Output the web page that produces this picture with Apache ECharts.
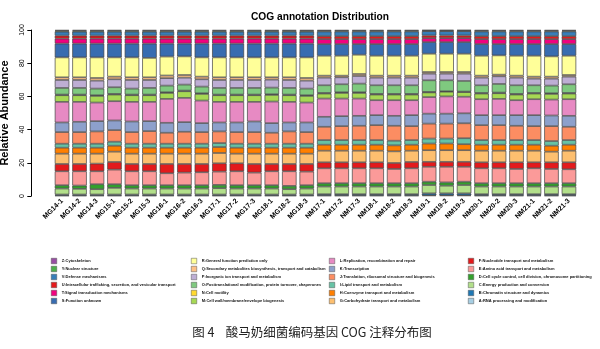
<!DOCTYPE html>
<html><head><meta charset="utf-8">
<script src="https://cdn.jsdelivr.net/npm/echarts@6/dist/echarts.min.js"></script>
<style>html,body{margin:0;padding:0;background:#fff}#c{width:600px;height:349px}</style>
</head><body><div id="c"></div>
<script>
const categories = ["MG14-1","MG14-2","MG14-3","MG15-1","MG15-2","MG15-3","MG16-1","MG16-2","MG16-3","MG17-1","MG17-2","MG17-3","MG18-1","MG18-2","MG18-3","NM17-1","NM17-2","NM17-3","NM18-1","NM18-2","NM18-3","NM19-1","NM19-2","NM19-3","NM20-1","NM20-2","NM20-3","NM21-1","NM21-2","NM21-3"];
const yTicks = [0, 20, 40, 60, 80, 100];
const cogLetters = ["A","B","C","D","E","F","G","H","I","J","K","L","M","N","O","P","Q","R","S","T","U","V","Y","Z"];
const cogNames = {
  A:"A:RNA processing and modification",
  B:"B:Chromatin structure and dynamics",
  C:"C:Energy production and conversion",
  D:"D:Cell cycle control, cell division, chromosome partitioning",
  E:"E:Amino acid transport and metabolism",
  F:"F:Nucleotide transport and metabolism",
  G:"G:Carbohydrate transport and metabolism",
  H:"H:Coenzyme transport and metabolism",
  I:"I:Lipid transport and metabolism",
  J:"J:Translation, ribosomal structure and biogenesis",
  K:"K:Transcription",
  L:"L:Replication, recombination and repair",
  M:"M:Cell wall/membrane/envelope biogenesis",
  N:"N:Cell motility",
  O:"O:Posttranslational modification, protein turnover, chaperones",
  P:"P:Inorganic ion transport and metabolism",
  Q:"Q:Secondary metabolites biosynthesis, transport and catabolism",
  R:"R:General function prediction only",
  S:"S:Function unknown",
  T:"T:Signal transduction mechanisms",
  U:"U:Intracellular trafficking, secretion, and vesicular transport",
  V:"V:Defense mechanisms",
  Y:"Y:Nuclear structure",
  Z:"Z:Cytoskeleton"
};
const cogA = [0.3,0.3,0.3,0.3,0.3,0.3,0.3,0.3,0.3,0.3,0.3,0.3,0.3,0.3,0.3,0.3,0.3,0.3,0.3,0.3,0.3,0.4,0.4,0.4,0.3,0.3,0.3,0.3,0.3,0.3];
const cogB = [0.6,0.6,0.6,0.6,0.6,0.6,0.6,0.6,0.6,0.6,0.6,0.6,0.6,0.6,0.6,0.8,0.8,0.8,0.8,0.8,0.8,1.2,1.2,1.2,0.8,0.8,0.8,0.8,0.8,0.8];
const cogC = [3.6,3.4,3.2,4.0,3.6,3.6,3.6,3.6,3.6,3.8,3.6,3.6,3.6,3.2,3.6,4.6,4.6,4.6,4.6,4.6,4.6,5.0,4.6,5.0,4.6,4.6,4.6,4.6,4.6,4.6];
const cogD = [2.0,2.0,3.0,2.2,2.0,2.0,2.0,2.0,2.0,2.0,2.0,2.0,2.0,2.0,2.0,2.0,2.0,2.0,2.0,2.0,2.0,2.0,2.0,2.0,2.0,2.0,2.0,2.0,2.0,2.0];
const cogE = [8.4,8.6,7.8,8.8,8.4,8.4,7.2,7.6,7.8,8.0,8.4,7.6,8.4,8.8,8.2,9.0,9.0,9.0,9.0,8.6,9.0,9.0,9.4,9.0,9.0,9.0,8.6,9.0,8.6,8.4];
const cogF = [4.4,4.4,4.6,4.6,4.4,4.4,5.6,5.2,5.0,5.0,4.8,5.2,4.4,4.4,4.6,3.6,3.6,3.6,3.6,3.6,3.8,3.0,3.0,3.0,3.6,3.6,4.0,3.6,4.0,4.2];
const cogG = [6.2,6.2,6.0,6.2,6.2,6.2,6.2,6.2,6.2,6.2,5.8,6.2,6.2,6.2,6.2,7.0,7.0,7.0,7.0,7.0,6.8,7.0,7.0,7.0,7.0,7.0,7.0,7.0,6.4,7.0];
const cogH = [3.6,3.6,3.6,3.6,3.6,3.6,3.6,3.6,3.6,3.6,3.6,3.6,3.6,3.6,3.6,3.6,3.6,3.6,3.6,3.6,3.6,4.0,4.0,3.6,3.6,3.6,3.6,3.6,3.6,3.6];
const cogI = [2.4,2.4,2.4,2.4,2.4,2.4,2.4,2.4,2.4,2.4,2.4,2.4,2.4,2.4,2.4,2.8,2.8,2.8,2.8,2.8,2.8,3.0,3.0,3.6,2.8,2.8,2.8,2.8,2.8,2.8];
const cogJ = [7.0,7.0,7.4,7.0,7.0,7.6,6.6,7.2,7.0,7.0,7.0,7.0,6.6,7.4,7.0,8.0,8.4,8.6,9.0,9.0,8.4,9.0,9.0,9.0,9.0,9.0,8.6,8.4,9.0,8.0];
const cogK = [5.8,6.2,6.2,5.8,6.4,6.0,6.0,5.8,5.4,5.4,5.8,6.4,5.8,5.4,5.8,6.0,6.0,6.0,6.0,6.0,6.6,6.0,6.0,6.0,6.0,6.0,6.4,6.6,6.4,6.6];
const cogL = [12.4,12.0,11.2,11.6,11.8,11.6,14.4,14.6,13.6,12.4,12.4,11.8,13.0,12.4,12.0,11.0,10.6,10.4,9.0,9.4,9.0,10.0,10.4,10.0,9.6,9.8,9.0,9.6,9.6,10.0];
const cogM = [4.0,4.0,4.0,4.0,4.0,4.0,3.6,4.0,4.0,4.0,4.0,4.0,4.0,4.0,4.0,3.0,3.4,3.4,3.4,3.4,3.4,2.8,2.8,2.8,3.4,3.4,3.4,3.4,3.4,3.4];
const cogN = [0.4,0.4,0.4,0.4,0.4,0.4,0.4,0.4,0.4,0.4,0.4,0.4,0.4,0.4,0.4,0.4,0.4,0.4,0.4,0.4,0.4,0.3,0.3,0.3,0.4,0.4,0.4,0.4,0.4,0.4];
const cogO = [4.0,4.0,4.0,4.0,3.6,4.0,4.0,3.6,4.0,4.0,4.0,4.0,4.0,4.0,4.0,4.6,4.8,5.2,5.2,5.2,5.2,7.0,6.6,6.4,4.6,5.2,5.2,4.6,4.6,5.2];
const cogP = [4.8,4.8,4.8,4.8,5.2,4.8,4.5,4.2,4.4,4.8,4.8,4.8,4.8,4.8,4.8,4.6,4.2,4.6,4.6,4.6,4.6,4.0,4.0,4.4,4.6,4.6,4.6,4.0,4.2,4.6];
const cogQ = [1.6,1.6,1.6,1.6,1.6,1.6,1.6,1.6,1.6,1.6,1.6,1.6,1.4,1.6,1.6,1.2,1.0,1.2,1.2,1.2,1.2,1.0,1.0,1.0,1.2,1.0,1.2,1.2,1.2,1.0];
const cogR = [12.0,12.0,12.4,11.6,12.0,11.7,11.4,11.2,11.6,12.0,12.0,12.0,12.0,12.0,12.4,12.0,12.0,11.6,12.0,12.0,12.0,11.0,11.0,11.0,12.0,11.6,12.0,12.6,12.2,11.6];
const cogS = [8.3,8.3,8.3,8.3,8.3,8.6,7.8,7.7,8.3,8.3,8.3,8.3,8.3,8.3,8.3,7.0,7.0,6.4,7.0,7.0,7.0,7.0,7.0,7.0,7.0,6.8,7.0,7.0,7.4,7.0];
const cogT = [3.0,3.0,3.0,3.0,3.0,3.0,3.0,3.0,3.0,3.0,3.0,3.0,3.0,3.0,3.0,3.0,3.0,3.0,3.0,3.0,3.0,2.4,2.4,2.4,3.0,3.0,3.0,3.0,3.0,3.0];
const cogU = [1.8,1.8,1.8,1.8,1.8,1.8,1.8,1.8,1.8,1.8,1.8,1.8,1.8,1.8,1.8,1.8,1.8,1.8,1.8,1.8,1.8,1.6,1.6,1.6,1.8,1.8,1.8,1.8,1.8,1.8];
const cogV = [2.4,2.4,2.4,2.4,2.4,2.4,2.4,2.4,2.4,2.4,2.4,2.4,2.4,2.4,2.4,2.8,2.8,2.8,2.8,2.8,2.8,2.6,2.6,2.6,2.8,2.8,2.8,2.8,2.8,2.8];
const cogY = [0.6,0.6,0.6,0.6,0.6,0.6,0.6,0.6,0.6,0.6,0.6,0.6,0.6,0.6,0.6,0.5,0.5,0.5,0.5,0.5,0.5,0.4,0.4,0.4,0.5,0.5,0.5,0.5,0.5,0.5];
const cogZ = [0.4,0.4,0.4,0.4,0.4,0.4,0.4,0.4,0.4,0.4,0.4,0.4,0.4,0.4,0.4,0.4,0.4,0.4,0.4,0.4,0.4,0.3,0.3,0.3,0.4,0.4,0.4,0.4,0.4,0.4];
const cogValues = {A:cogA,B:cogB,C:cogC,D:cogD,E:cogE,F:cogF,G:cogG,H:cogH,I:cogI,J:cogJ,K:cogK,L:cogL,M:cogM,N:cogN,O:cogO,P:cogP,Q:cogQ,R:cogR,S:cogS,T:cogT,U:cogU,V:cogV,Y:cogY,Z:cogZ};
const cogColors = {A:"#A6CEE3",B:"#1F78B4",C:"#B2DF8A",D:"#33A02C",E:"#FB9A99",F:"#E31A1C",G:"#FDBF6F",H:"#FF7F00",I:"#66C2A5",J:"#FC8D62",K:"#8DA0CB",L:"#E78AC3",M:"#A6D854",N:"#FFD92F",O:"#7FC97F",P:"#BEAED4",Q:"#FDC086",R:"#FFFF99",S:"#386CB0",T:"#F0027F",U:"#E41A1C",V:"#377EB8",Y:"#4DAF4A",Z:"#984EA3"};
const legendColumns = [["Z","Y","V","U","T","S"],["R","Q","P","O","N","M"],["L","K","J","I","H","G"],["F","E","D","C","B","A"]];
const legendLeft = [51, 191, 329, 468];

const chart = echarts.init(document.getElementById('c'), null, {renderer:'canvas'});
const series = cogLetters.map(k => ({
  name: cogNames[k], type: 'bar', stack: 'total', data: cogValues[k],
  barCategoryGap: '17%',
  itemStyle: {color: cogColors[k], borderColor: '#444', borderWidth: 0.7},
  emphasis: {disabled: true}
}));
const legends = legendColumns.map((col, i) => ({
  orient: 'vertical', left: legendLeft[i], top: 258, padding: 0,
  itemWidth: 5.5, itemHeight: 5.5, itemGap: 2, icon: 'rect', selectedMode: false,
  itemStyle: {borderWidth: 0.5, borderColor: '#555'},
  data: col.map(k => cogNames[k]),
  textStyle: {fontSize: 4, fontWeight: 'bold', color: '#111', fontFamily: 'Liberation Sans, Arial'}
}));
chart.setOption({
  animation: false,
  backgroundColor: '#fff',
  title: [
    {text: 'COG annotation Distribution', left: 315, top: 7, textAlign: 'center',
     textStyle: {fontSize: 10.2, fontWeight: 'bold', color: '#000', fontFamily: 'Liberation Sans, Arial'}},
    {text: '图 4    酸马奶细菌编码基因 COG 注释分布图', left: 307, top: 321, textAlign: 'center',
     textStyle: {fontSize: 12.5, fontWeight: 'normal', color: '#222', fontFamily: 'Noto Sans CJK SC'}}
  ],
  legend: legends,
  grid: {left: 53.3, right: 22.3, top: 30, bottom: 153, outerBoundsMode: 'none'},
  xAxis: {
    type: 'category', data: categories,
    axisLine: {show: false}, axisTick: {show: false},
    axisLabel: {rotate: 45, interval: 0, fontSize: 7, fontWeight: 'bold', color: '#000', margin: 4, fontFamily: 'Liberation Sans, Arial'}
  },
  yAxis: {
    type: 'value', min: 0, max: 100, interval: 20, offset: 22,
    axisLine: {show: true, lineStyle: {color: '#000', width: 1}},
    axisTick: {show: true, length: 4, lineStyle: {color: '#000'}},
    splitLine: {show: false},
    axisLabel: {rotate: 90, fontSize: 7, color: '#000', margin: 6, fontFamily: 'Liberation Sans, Arial',
      formatter: v => yTicks.includes(v) ? String(v) : ''},
    name: 'Relative Abundance', nameLocation: 'middle', nameGap: 13,
    nameTextStyle: {fontSize: 11, fontWeight: 'bold', color: '#000', fontFamily: 'Liberation Sans, Arial'}
  },
  series: series
});
</script></body></html>
